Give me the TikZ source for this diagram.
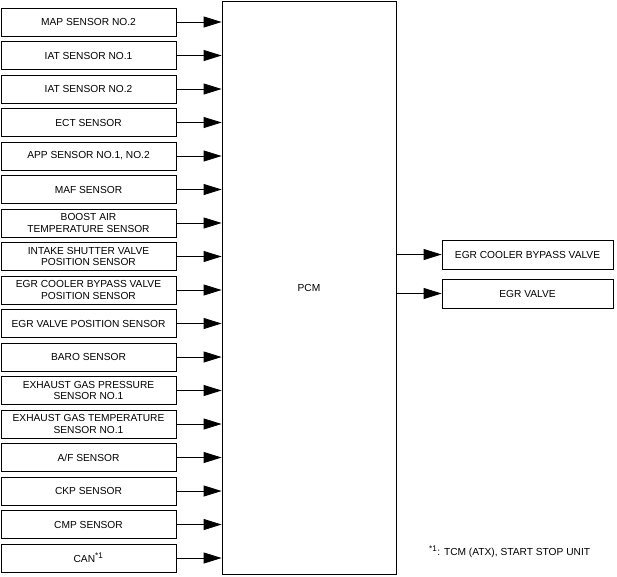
\documentclass[tikz,border=0pt]{standalone}
\usepackage{fontspec}
\setmainfont{Liberation Sans}
\usetikzlibrary{arrows.meta}

\newcommand{\noteref}{\textsuperscript{\fontsize{8.2}{8.2}\selectfont *1}}

\tikzset{
  sensor/.style={draw, line width=0.8pt, minimum width=175pt, minimum height=28pt,
    align=center, inner sep=1pt, font=\fontsize{10.2}{11.8}\selectfont},
  output/.style={sensor, minimum width=171pt, minimum height=29pt},
  sig/.style={line width=0.8pt, -{Triangle[length=18pt,width=11pt]}}
}

\begin{document}
\begin{tikzpicture}[x=1pt,y=-1pt]

\useasboundingbox (0,0) rectangle (617,576);

\node[draw, line width=0.8pt, minimum width=174pt, minimum height=573pt,
  font=\fontsize{10.2}{11.8}\selectfont] (pcm) at (309,287.5) {PCM};

% inputs
\foreach \txt [count=\i] in {MAP SENSOR NO.2, IAT SENSOR NO.1, IAT SENSOR NO.2,
    ECT SENSOR, {APP SENSOR NO.1, NO.2}, MAF SENSOR,
    BOOST AIR\\TEMPERATURE SENSOR, INTAKE SHUTTER VALVE\\POSITION SENSOR,
    EGR COOLER BYPASS VALVE\\POSITION SENSOR, EGR VALVE POSITION SENSOR,
    BARO SENSOR, EXHAUST GAS PRESSURE\\SENSOR NO.1,
    EXHAUST GAS TEMPERATURE\\SENSOR NO.1, A/F SENSOR, CKP SENSOR, CMP SENSOR,
    CAN\noteref}
{
  \node[sensor] (s\i) at (88.5,{22+(\i-1)*33.5}) {\txt};
  \draw[sig] (s\i.east) -- (s\i.east -| pcm.west);
}

% outputs
\node[output] (bypass) at (527.5,254.5) {EGR COOLER BYPASS VALVE};
\node[output] (egr) at (527.5,293.5) {EGR VALVE};
\draw[sig] (bypass.west -| pcm.east) -- (bypass.west);
\draw[sig] (egr.west -| pcm.east) -- (egr.west);

\node[anchor=west, inner sep=0pt, font=\fontsize{10.2}{11.8}\selectfont] (note) at (429,552)
  {\noteref: TCM (ATX), START STOP UNIT};

\end{tikzpicture}
\end{document}
